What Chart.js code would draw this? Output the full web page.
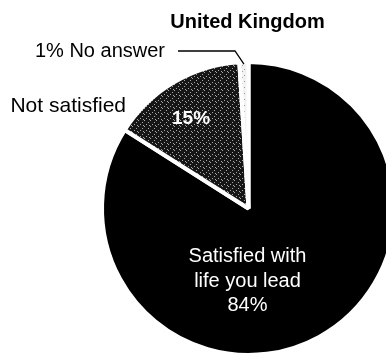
<!DOCTYPE html>
<html>
<head>
<meta charset="utf-8">
<script src="https://cdn.jsdelivr.net/npm/chart.js@4"></script>
<style>
  html, body { margin: 0; padding: 0; background: #fff; overflow: hidden; }
  #wrap { position: absolute; left: 0; top: 0; width: 404px; height: 362px; }
</style>
</head>
<body>
<div id="wrap"><canvas id="myChart"></canvas></div>
<script>
const title = "United Kingdom";
const categories = ["Satisfied with life you lead", "Not satisfied", "No answer"];
const values = [84, 15, 1];

// dotted fill like the printed screen tone
function stipple(base, dot, spots) {
  const c = document.createElement("canvas");
  c.width = 6; c.height = 6;
  const g = c.getContext("2d");
  g.fillStyle = base;
  g.fillRect(0, 0, 6, 6);
  g.fillStyle = dot;
  spots.forEach(p => g.fillRect(p[0], p[1], 1, 1));
  return g.createPattern(c, "repeat");
}

const darkTone = stipple("#161616", "#a8a8a8", [[0,0],[4,2],[2,4],[5,5]]);
const lightTone = stipple("#f2f2f2", "#9a9a9a", [[1,1],[4,3],[2,5]]);

const labelsPlugin = {
  id: "labels",
  afterDraw(chart) {
    const ctx = chart.ctx;
    const meta = chart.getDatasetMeta(0);
    const a0 = meta.data[0], a1 = meta.data[1], a2 = meta.data[2];
    const cx = a0.x, cy = a0.y, r = a0.outerRadius;
    ctx.save();

    ctx.fillStyle = "#000";
    ctx.font = "bold 20px 'Liberation Sans', Arial, sans-serif";
    ctx.textAlign = "center";
    ctx.textBaseline = "alphabetic";
    ctx.fillText(title, cx - 1, 28);

    ctx.font = "20px 'Liberation Sans', Arial, sans-serif";
    ctx.textAlign = "right";
    ctx.fillText(values[2] + "% " + categories[2], 165, 57);
    ctx.font = "21px 'Liberation Sans', Arial, sans-serif";
    ctx.fillText(categories[1], 126, 112);

    // leader line to the thin slice
    const m2 = (a2.startAngle + a2.endAngle) / 2;
    ctx.strokeStyle = "#000";
    ctx.lineWidth = 1.3;
    ctx.beginPath();
    ctx.moveTo(178, 51);
    ctx.lineTo(235, 51);
    ctx.lineTo(cx + Math.cos(m2) * (r - 2), cy + Math.sin(m2) * (r - 2));
    ctx.stroke();

    // 15% inside the grey slice
    const m1 = (a1.startAngle + a1.endAngle) / 2;
    ctx.fillStyle = "#fff";
    ctx.font = "bold 19px 'Liberation Sans', Arial, sans-serif";
    ctx.textAlign = "center";
    ctx.textBaseline = "middle";
    ctx.fillText(values[1] + "%", cx + Math.cos(m1) * r * 0.73 - 3, cy + Math.sin(m1) * r * 0.73 + 2);

    ctx.font = "20px 'Liberation Sans', Arial, sans-serif";
    ctx.textBaseline = "alphabetic";
    ctx.fillText("Satisfied with", cx - 1, 262);
    ctx.fillText("life you lead", cx - 1, 287);
    ctx.fillText(values[0] + "%", cx - 1, 311);
    ctx.restore();
  }
};

const ctx = document.getElementById("myChart");
new Chart(ctx, {
  type: "pie",
  data: {
    labels: categories,
    datasets: [{
      data: values,
      backgroundColor: ["#000000", darkTone, lightTone],
      borderColor: "#ffffff",
      borderWidth: 4,
      hoverOffset: 0
    }]
  },
  options: {
    responsive: true,
    maintainAspectRatio: false,
    animation: false,
    layout: { padding: { left: 100, top: 60, right: 7, bottom: 5 } },
    plugins: {
      legend: { display: false },
      tooltip: { enabled: false },
      title: { display: false }
    }
  },
  plugins: [labelsPlugin]
});
</script>
</body>
</html>
